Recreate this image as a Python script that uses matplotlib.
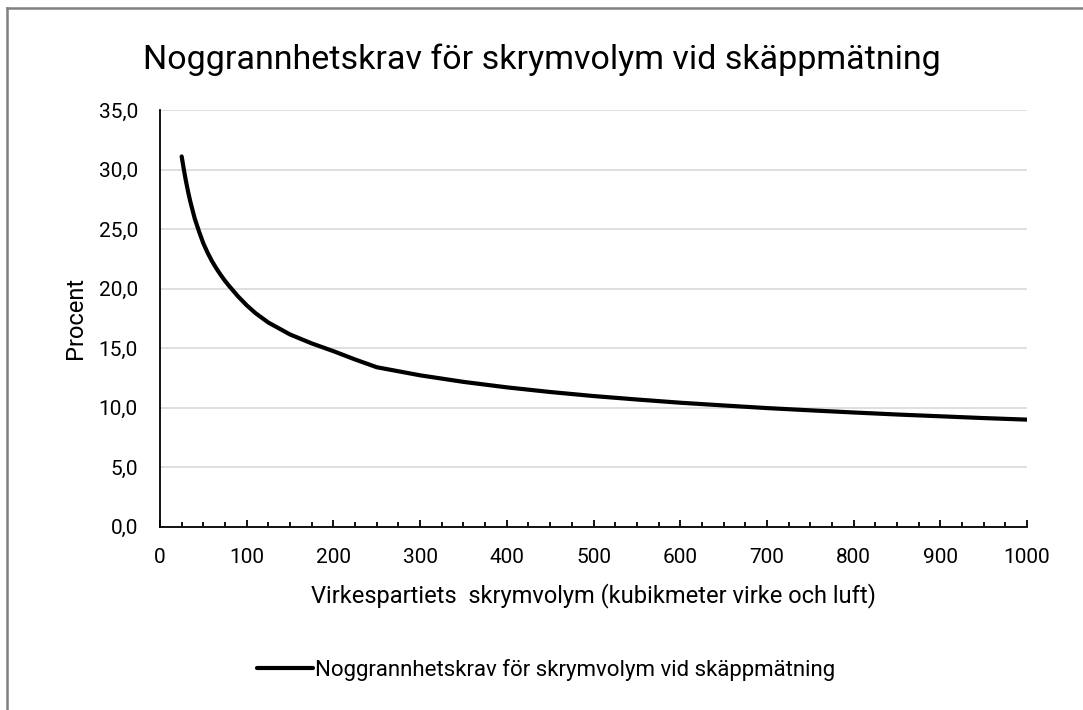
import numpy as np
import matplotlib.pyplot as plt
from matplotlib.lines import Line2D
from matplotlib.ticker import MultipleLocator, FuncFormatter

plt.rcParams['font.family'] = ['Roboto', 'DejaVu Sans']

# Data -----------------------------------------------------------------
volym = [25, 27.5, 30, 32.5, 35, 37.5, 40, 45, 50, 55, 60, 65, 70, 75, 80, 90,
         100, 110, 125, 150, 175, 200, 225, 250,
         300, 350, 400, 450, 500, 550, 600, 650, 700, 750, 800, 850, 900, 950, 1000]
procent = [31.1, 30.0, 29.0, 28.1, 27.3, 26.6, 25.9, 24.8, 23.8, 23.0, 22.3, 21.7, 21.15, 20.65, 20.2, 19.35,
           18.6, 17.95, 17.15, 16.15, 15.4, 14.75, 14.05, 13.4,
           12.72, 12.17, 11.71, 11.32, 10.98, 10.69, 10.42, 10.19, 9.97, 9.78, 9.60, 9.43, 9.28, 9.13, 9.0]

title = 'Noggrannhetskrav för skrymvolym vid skäppmätning'
x_label = 'Virkespartiets  skrymvolym (kubikmeter virke och luft)'
y_label = 'Procent'

fig = plt.figure(figsize=(10.83, 7.1), dpi=100)
ax = fig.add_axes([160 / 1083, 1 - 526.8 / 710, 867 / 1083, 416.8 / 710])

line, = ax.plot(volym, procent, color='black', linewidth=3, solid_capstyle='round',
                solid_joinstyle='round', label=title)

ax.set_xlim(0, 1000)
ax.set_ylim(0, 35)
ax.xaxis.set_major_locator(MultipleLocator(100))
ax.xaxis.set_minor_locator(MultipleLocator(25))
ax.yaxis.set_major_locator(MultipleLocator(5))
ax.yaxis.set_major_formatter(FuncFormatter(lambda v, p: ('%.1f' % v).replace('.', ',')))

ax.grid(axis='y', color='#d9d9d9', linewidth=1.2)
ax.set_axisbelow(True)
for s in ['top', 'right']:
    ax.spines[s].set_visible(False)
ax.spines['left'].set_linewidth(1.3)
ax.spines['bottom'].set_linewidth(1.3)

ax.tick_params(axis='x', which='major', direction='in', length=5, width=1.3,
               labelsize=15, pad=15)
ax.tick_params(axis='x', which='minor', direction='in', length=3.5, width=1.3)
ax.tick_params(axis='y', length=0, labelsize=15, pad=16)

ax.set_xlabel(x_label, fontsize=17, labelpad=12)
ax.set_ylabel(y_label, fontsize=17, labelpad=8)

fig.text(0.5, 1 - 60 / 710, title, ha='center', va='center', fontsize=24.5)

fig.legend(handles=[line], loc='center', bbox_to_anchor=(546 / 1083, 1 - 670 / 710),
           frameon=False, fontsize=16, handlelength=2.5, handletextpad=0.1)

# grey chart frame (top and left visible)
fig.add_artist(Line2D([7 / 1083, 7 / 1083], [0, 1 - 7.5 / 710], transform=fig.transFigure,
                      color='#808080', linewidth=1.8))
fig.add_artist(Line2D([7 / 1083, 1], [1 - 7.5 / 710, 1 - 7.5 / 710], transform=fig.transFigure,
                      color='#808080', linewidth=1.8))

fig.savefig('out.png', dpi=100, facecolor='white')
